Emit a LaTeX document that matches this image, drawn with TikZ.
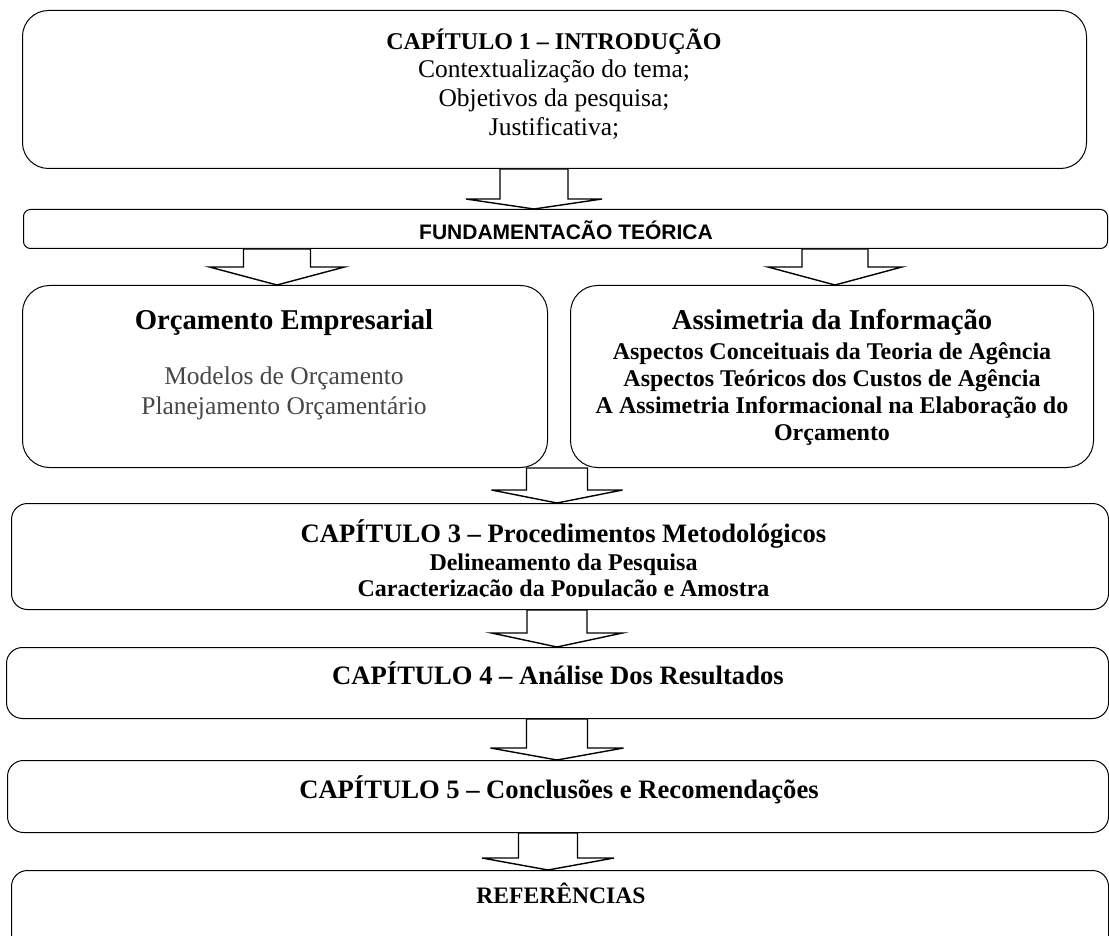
\documentclass[tikz,border=0pt]{standalone}
\usepackage{fontspec}
\setmainfont{Liberation Serif}
\newfontfamily\arialf{Liberation Sans}
\usetikzlibrary{calc}
\newcommand{\fsz}[1]{\fontsize{#1pt}{#1pt}\selectfont}
\newcommand{\blockarrow}[6]{%
  \draw[barrow] let \p1=(#2.south), \p2=(#3.north) in
    ({(#1-#4)*1pt},\y1) -- ({(#1-#4)*1pt},{\y2+#6pt}) -- ({(#1-#5)*1pt},{\y2+#6pt})
    -- ({#1*1pt},\y2) -- ({(#1+#5)*1pt},{\y2+#6pt}) -- ({(#1+#4)*1pt},{\y2+#6pt})
    -- ({(#1+#4)*1pt},\y1) -- cycle;}
\begin{document}
\begin{tikzpicture}[x=1pt,y=-1pt,
  box/.style={draw=black, line width=1pt, fill=white, inner sep=0pt, anchor=north west},
  barrow/.style={draw=black, line width=1.4pt, fill=white, line join=miter},
  ttl/.style={anchor=base, inner sep=0pt, font=\fsz{26.6}\bfseries},
  bigttl/.style={anchor=base, inner sep=0pt, font=\fsz{28.7}\bfseries},
  bodyb/.style={anchor=base, inner sep=0pt, font=\fsz{24}\bfseries},
  bodyr/.style={anchor=base, inner sep=0pt, font=\fsz{25.5}},
]
\clip (0,0) rectangle (1109,936);
\fill[white] (0,0) rectangle (1109,936);

% boxes
\node[box, rounded corners=26pt, minimum width=1064pt, minimum height=158pt] (b1) at (22,10) {};
\node[box, rounded corners=7pt, minimum width=1084pt, minimum height=39pt] (b2) at (23,209) {};
\node[box, rounded corners=27pt, minimum width=525pt, minimum height=182pt] (bl) at (22,285) {};
\node[box, rounded corners=27pt, minimum width=523pt, minimum height=182pt] (br) at (570,285) {};
\node[box, rounded corners=16pt, minimum width=1097pt, minimum height=106pt] (b3) at (11,503) {};
\node[box, rounded corners=16pt, minimum width=1102pt, minimum height=71pt] (b4) at (6,647) {};
\node[box, rounded corners=16pt, minimum width=1101pt, minimum height=72pt] (b5) at (7,760) {};
\node[box, rounded corners=16pt, minimum width=1097pt, minimum height=100pt] (b6) at (11,870) {};

% block arrows
\blockarrow{534}{b1}{b2}{34}{68}{10}
\blockarrow{277}{b2}{bl}{33.5}{67.5}{18}
\blockarrow{835}{b2}{br}{33}{67}{18}
\blockarrow{557}{bl}{b3}{30.5}{65.5}{13}
\blockarrow{557}{b3}{b4}{30}{65.5}{14}
\blockarrow{557}{b4}{b5}{30.5}{66.5}{12}
\blockarrow{548}{b5}{b6}{29.5}{66}{12}

% texts
\node[anchor=base, inner sep=0pt, font=\fsz{24}\bfseries] (t1a) at (554,50) {CAPÍTULO 1 – INTRODUÇÃO};
\node[bodyr] (t1b) at (554,78) {Contextualização do tema;};
\node[bodyr] (t1c) at (554,107) {Objetivos da pesquisa;};
\node[bodyr] (t1d) at (554,136) {Justificativa;};

\node[anchor=base, inner sep=0pt, font=\arialf\fsz{21}\bfseries] (t2) at (566,239.5) {FUNDAMENTACÃO TEÓRICA};

\node[bigttl] (tla) at (284,329.5) {Orçamento Empresarial};
\node[bodyr, text=black!72] (tlb) at (284,384) {Modelos de Orçamento};
\node[bodyr, text=black!72] (tlc) at (284,414) {Planejamento Orçamentário};

\node[bigttl] (tra) at (832,329.5) {Assimetria da Informação};
\node[bodyb] (trb) at (832,359) {Aspectos Conceituais da Teoria de Agência};
\node[bodyb] (trc) at (832,386) {Aspectos Teóricos dos Custos de Agência};
\node[bodyb] (trd) at (832,413) {A Assimetria Informacional na Elaboração do};
\node[bodyb] (tre) at (832,440) {Orçamento};

\node[ttl] (t3a) at (563.5,542) {CAPÍTULO 3 – Procedimentos Metodológicos};
\node[bodyb] (t3b) at (563.5,570) {Delineamento da Pesquisa};
\begin{scope}
  \clip (0,0) rectangle (1109,596);
  \node[bodyb] (t3c) at (563.5,596) {Caracterização da População e Amostra};
\end{scope}

\node[ttl] (t4) at (558,684) {CAPÍTULO 4 – Análise Dos Resultados};
\node[ttl] (t5) at (559,798) {CAPÍTULO 5 – Conclusões e Recomendações};
\node[anchor=base, inner sep=0pt, font=\fsz{23.6}\bfseries] (t6) at (561,903) {REFERÊNCIAS};
\end{tikzpicture}
\end{document}
